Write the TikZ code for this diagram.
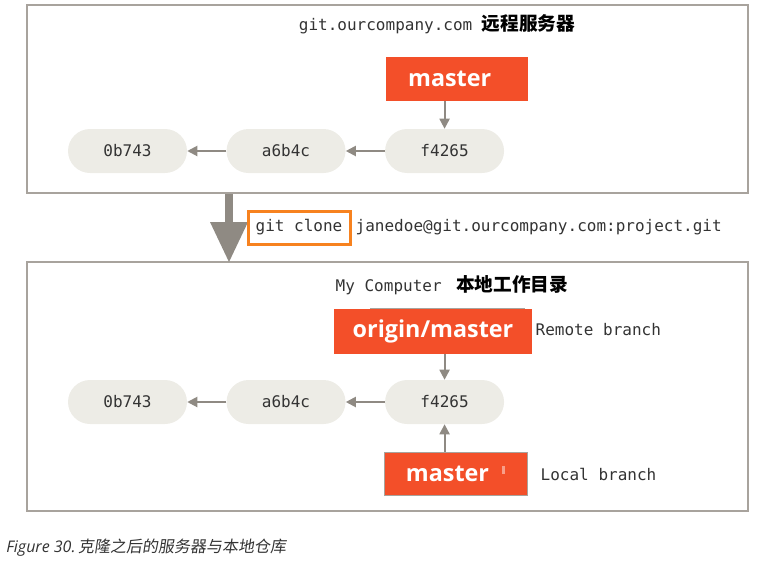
\documentclass[tikz,border=0pt]{standalone}
\usepackage{fontspec}
\setmainfont{Open Sans}
\setmonofont{DejaVu Sans Mono}
\newfontfamily\cjk{Noto Sans CJK SC}
\newfontfamily\cjkslant[FakeSlant=0.15]{Noto Sans CJK SC}
\usetikzlibrary{positioning,arrows.meta}
\definecolor{gitorange}{HTML}{F34F29}
\definecolor{clonebox}{HTML}{F7821F}
\definecolor{pillfill}{HTML}{EDECE6}
\definecolor{linegray}{HTML}{8F8A83}
\definecolor{panelgray}{HTML}{A8A39D}
\definecolor{monotext}{HTML}{333333}
\tikzset{panel/.style={rectangle, draw=panelgray, line width=1.5pt, minimum width=540.75pt},
commit/.style={rectangle, rounded corners=16.5pt, fill=pillfill, minimum width=89.25pt, minimum height=33pt, font=\ttfamily\fontsize{12}{14}\selectfont, text=monotext},
branch/.style={rectangle, fill=gitorange, text=white, font=\bfseries\fontsize{17.5}{20}\selectfont, minimum height=33pt},
mono/.style={font=\ttfamily\fontsize{12}{14}\selectfont, text=monotext},
link/.style={draw=linegray, line width=1.5pt, -{Triangle[length=7.5pt,width=7.5pt]}},}

\begin{document}
\begin{tikzpicture}[x=0.75pt, y=-0.75pt]
\useasboundingbox (0,0) rectangle (771,562);
% the two panels
\node [panel, minimum height=141pt] (server) at (387.5,99) {};
\node [panel, minimum height=186.75pt] (local) at (387.5,386.5) {};
% server side
\node [mono, anchor=east] (servername) at (580,24) {git.ourcompany.com {\cjk\bfseries\fontsize{14}{16}\selectfont\color{black}远程服务器}};
\node [branch, minimum width=106.5pt] (master) at (457,79) {master\kern11pt};
\node [commit] (a) at (127.5,151) {0b743};
\node [commit] (b) [right=29.25pt of a] {a6b4c};
\node [commit] (c) [right=29.25pt of b] {f4265};
\draw [link] (c) -- (b);
\draw [link] (b) -- (a);
\draw [link] (master.south -| c) -- (c);
% clone command
\draw [draw=linegray, line width=6pt] (server.south -| 229,0) -- (229,232);
\fill [linegray] (210,222) -- (248,222) -- (229,262) -- cycle;
\node [mono, draw=clonebox, line width=2.25pt, minimum width=76.5pt, minimum height=24.75pt, inner sep=1pt] (clone) at (299,227.5) {git clone};
\node [mono, anchor=west] (url) at (351,227) {janedoe@git.ourcompany.com:project.git};
% local side
\node [mono, anchor=west] (localname) at (331,285) {My Computer\hspace{0.9em}{\cjk\bfseries\fontsize{14}{16}\selectfont\color{black}本地工作目录}};
\draw [panelgray, line width=0.75pt] (370,308) -- (525,308);
\node [branch, minimum width=148.5pt, minimum height=33.75pt] (origin) at (433,331) {origin/master};
\node [mono, anchor=west] (remote) at (531,330) {Remote branch};
\node [commit] (la) at (127.5,402) {0b743};
\node [commit] (lb) [right=29.25pt of la] {a6b4c};
\node [commit] (lc) [right=29.25pt of lb] {f4265};
\draw [link] (lc) -- (lb);
\draw [link] (lb) -- (la);
\draw [link] (origin.south -| lc) -- (lc);
\node [branch, draw=panelgray, line width=0.5pt, minimum width=107.25pt, minimum height=32.25pt, text depth=0pt] (localmaster) at (455.5,473.5) {master\kern12pt};
\fill [gitorange!55!white] (502,466) rectangle (505,474);
\draw [link] (localmaster.north -| lc) -- (lc);
\node [mono, anchor=west] (localbranch) at (536,474) {Local branch};
% caption
\node [anchor=west, text=monotext, font=\itshape\fontsize{12}{14}\selectfont, inner sep=0pt] (caption) at (6,548) {Figure 30.\,{\cjkslant 克隆之后的服务器与本地仓库}};
\end{tikzpicture}
\end{document}
